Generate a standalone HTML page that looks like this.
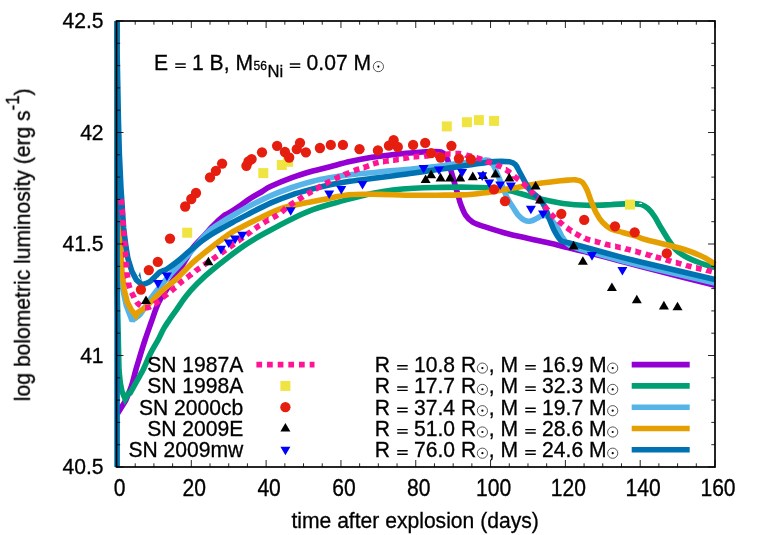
<!DOCTYPE html><html><head><meta charset="utf-8"><style>html,body{margin:0;padding:0;background:#fff}svg{display:block}text{font-family:"Liberation Sans",sans-serif;fill:#000;stroke:#000;stroke-width:0.3px}</style></head><body>
<svg width="764" height="535" viewBox="0 0 764 535">
<rect width="764" height="535" fill="#fff"/>
<defs><clipPath id="c"><rect x="113.5" y="21.0" width="604.5" height="446.0"/></clipPath><filter id="gs" x="0" y="0" width="764" height="535" filterUnits="userSpaceOnUse" color-interpolation-filters="sRGB"><feColorMatrix type="saturate" values="0"/></filter></defs>
<g clip-path="url(#c)" fill="none" stroke-width="5.6" stroke-linejoin="miter" stroke-miterlimit="10" stroke-linecap="butt">
<path d="M117.6 413.4L125.7 400.4C126.7 398.0 129.8 391.1 131.5 386.0C133.2 380.9 134.6 374.3 135.8 370.0C137.0 365.7 137.3 365.0 138.8 360.0C140.3 355.0 142.9 346.3 145.0 340.0C147.1 333.7 149.1 328.2 151.3 322.0C153.6 315.8 155.5 308.8 158.5 302.7C161.5 296.6 166.2 290.3 169.5 285.3C172.8 280.3 175.2 277.0 178.0 272.5C180.8 268.0 183.8 262.8 186.4 258.5C189.0 254.2 190.8 250.6 193.5 247.0C196.2 243.4 199.6 240.6 202.9 237.0C206.2 233.4 209.9 229.0 213.4 225.5C216.9 222.0 221.3 217.9 223.9 215.8C226.5 213.7 226.4 214.6 229.0 213.0C231.6 211.4 235.7 208.7 239.2 206.3C242.7 203.9 246.3 201.0 250.0 198.6C253.7 196.2 257.9 194.1 261.4 192.0C264.9 189.9 265.8 188.7 270.9 186.3C276.0 183.9 284.9 180.2 291.9 177.6C298.9 175.0 306.4 172.8 312.8 171.0C319.2 169.2 323.8 168.3 330.0 166.7C336.2 165.1 343.0 163.1 350.0 161.5C357.0 159.9 365.2 158.3 371.9 157.2C378.6 156.1 383.6 155.7 390.0 155.0C396.4 154.3 404.1 153.5 410.0 153.0C415.9 152.5 421.4 152.1 425.7 151.8C430.0 151.6 433.4 151.5 436.0 151.5C438.6 151.5 439.6 151.6 441.0 152.0C442.4 152.4 443.4 153.0 444.5 154.2C445.6 155.4 446.4 157.0 447.3 159.0C448.2 161.0 448.7 163.2 449.6 166.0C450.5 168.8 451.5 172.6 452.5 176.0C453.5 179.4 454.6 183.3 455.5 186.5C456.4 189.7 457.1 192.0 458.0 195.0C458.9 198.0 459.5 201.2 460.8 204.5C462.1 207.8 463.6 212.2 465.6 215.1C467.6 218.0 469.4 220.2 472.7 222.2C476.0 224.2 479.3 224.9 485.3 226.9C491.3 228.9 499.6 231.7 508.8 234.0C518.0 236.3 532.2 239.2 540.2 241.0C548.2 242.8 552.2 243.6 556.5 244.7C560.8 245.8 560.6 246.0 566.0 247.3C571.4 248.6 579.8 250.4 588.8 252.7C597.8 255.0 610.7 258.5 620.2 261.0C629.7 263.5 630.2 263.8 646.0 267.9C661.8 272.0 703.5 282.5 715.0 285.4" stroke="#9400d3"/>
<path d="M117.2 10.0L117.2 290.0L118.3 340.0L119.0 370.0L120.3 383.0L122.0 391.5L125.2 399.2L128.6 393.2L130.2 393.0C130.7 392.1 131.5 390.6 133.2 387.6C134.9 384.6 138.6 378.1 140.3 375.0C142.0 371.9 141.6 373.0 143.3 369.3C145.1 365.6 148.3 357.8 150.8 352.8C153.3 347.8 156.2 343.5 158.3 339.5C160.4 335.5 161.7 332.2 163.5 329.0C165.3 325.8 167.1 323.3 169.3 320.0C171.5 316.7 174.0 313.3 176.8 309.3C179.6 305.3 182.5 300.6 186.0 296.2C189.5 291.8 193.4 287.5 197.8 283.1C202.2 278.7 204.4 276.3 212.2 270.0C220.0 263.7 235.2 251.8 244.5 245.4C253.8 239.0 260.1 235.9 268.0 231.5C275.9 227.1 284.4 222.5 291.9 218.9C299.4 215.3 306.4 212.1 312.8 209.7C319.2 207.3 323.6 206.2 330.0 204.3C336.4 202.5 343.9 200.4 350.9 198.6C357.9 196.8 364.9 194.8 371.9 193.4C378.9 192.0 385.8 190.8 392.8 190.0C399.8 189.2 406.8 188.7 413.8 188.3C420.8 187.9 425.5 187.7 434.7 187.5C443.9 187.3 460.0 187.1 468.8 187.2C477.6 187.2 481.1 187.2 487.7 187.8C494.2 188.4 502.6 189.5 508.1 190.5C513.6 191.5 515.8 192.4 521.0 193.8C526.2 195.2 532.6 197.1 539.6 198.7C546.6 200.3 555.2 202.3 563.1 203.4C571.0 204.5 578.9 205.1 586.7 205.3C594.6 205.5 603.1 205.0 610.2 204.7C617.4 204.4 624.4 203.6 629.6 203.6C634.8 203.6 638.4 203.8 641.5 204.6C644.6 205.4 646.0 206.6 648.2 208.6C650.4 210.6 652.6 213.5 654.7 216.7C656.8 219.9 658.6 223.8 661.0 227.7C663.4 231.6 666.4 236.8 668.8 240.3C671.1 243.8 672.5 246.3 675.1 248.9C677.7 251.5 680.3 253.7 684.5 256.0C688.7 258.4 695.1 261.1 700.2 263.0C705.3 264.9 712.5 266.8 715.0 267.5" stroke="#009e73"/>
<path d="M117.0 10.0L117.2 150.0L119.3 240.0L121.5 280.0L123.0 290.0L124.2 296.0L126.3 305.4L129.8 314.8L131.6 319.3L133.4 319.5C134.4 318.5 137.7 317.2 140.3 314.1C142.9 311.0 146.3 304.8 149.0 301.0C151.7 297.2 153.1 295.2 156.2 291.3C159.3 287.4 163.7 282.1 167.4 277.8C171.1 273.5 175.2 269.2 178.6 265.5C182.0 261.8 185.4 258.1 187.6 255.6C189.8 253.1 189.1 253.9 192.0 250.5C194.9 247.1 201.8 238.6 205.0 235.0C208.2 231.4 208.7 231.1 211.4 229.0C214.1 226.9 217.5 224.7 221.0 222.5C224.5 220.3 227.0 218.8 232.4 215.7C237.8 212.6 246.9 207.4 253.3 204.1C259.7 200.8 264.5 198.4 270.9 195.6C277.3 192.8 284.9 189.9 291.9 187.5C298.9 185.1 306.4 182.8 312.8 181.2C319.2 179.6 323.8 178.8 330.0 177.7C336.2 176.6 343.0 175.6 350.0 174.8C357.0 174.0 365.2 173.4 371.9 172.7C378.6 172.0 383.6 171.4 390.0 170.8C396.4 170.2 403.2 169.9 410.0 169.3C416.8 168.7 423.9 167.9 430.9 167.1C437.9 166.3 444.9 165.2 451.9 164.3C458.9 163.4 467.4 162.4 472.8 161.7C478.2 161.0 481.0 160.2 484.0 160.2C487.0 160.1 488.8 159.6 490.8 161.4C492.8 163.2 494.3 167.1 496.0 170.8C497.7 174.5 499.4 179.0 501.2 183.4C503.0 187.8 505.1 193.6 507.0 197.5C508.9 201.4 510.9 204.1 512.8 207.0C514.7 209.9 516.2 212.9 518.2 215.1C520.2 217.3 522.4 219.3 524.5 220.3C526.6 221.3 528.7 221.4 530.8 221.1C532.9 220.8 535.0 219.3 537.1 218.3C539.2 217.3 541.3 215.2 543.4 215.1C545.5 215.0 547.2 216.0 549.5 218.0C551.8 220.0 554.9 223.9 557.0 227.0C559.1 230.1 560.3 233.8 562.0 236.5C563.7 239.2 565.2 241.6 567.0 243.3C568.8 245.1 569.4 245.6 573.0 247.0C576.6 248.4 580.9 249.4 588.8 251.6C596.7 253.8 610.7 257.8 620.2 260.3C629.7 262.8 630.2 262.9 646.0 266.7C661.8 270.5 703.5 280.3 715.0 283.0" stroke="#56b4e9"/>
<path d="M117.0 10.0L117.2 150.0L119.5 215.0L121.8 270.0L124.2 290.0L127.4 302.4L131.4 310.0L136.0 315.8L138.0 312.4C138.9 311.8 141.5 310.4 143.5 308.8C145.5 307.2 146.7 306.0 150.0 302.8C153.3 299.6 158.7 293.8 163.1 289.9C167.5 286.0 172.5 282.5 176.2 279.2C179.9 275.9 181.8 273.4 185.3 270.0C188.8 266.6 190.2 264.4 197.4 258.5C204.7 252.6 221.2 239.7 228.8 234.4C236.4 229.1 237.5 229.4 242.8 226.6C248.1 223.8 254.1 220.8 260.5 217.8C266.9 214.8 274.4 210.9 281.4 208.5C288.4 206.1 295.4 205.0 302.4 203.5C309.4 202.0 315.6 201.1 323.3 199.6C331.0 198.1 339.3 195.6 348.8 194.7C358.3 193.8 370.7 194.3 380.2 194.4C389.7 194.5 396.5 195.1 406.0 195.2C415.5 195.3 428.4 195.2 437.4 195.2C446.4 195.1 454.1 195.1 460.0 194.9C465.9 194.8 469.0 194.6 472.8 194.3C476.6 194.0 479.5 193.6 483.0 193.1C486.5 192.6 488.5 192.3 493.8 191.4C499.1 190.5 507.7 188.9 514.7 187.7C521.7 186.5 528.7 185.1 535.7 184.0C542.7 182.9 551.2 182.0 556.6 181.3C562.0 180.7 564.8 180.3 568.0 180.1C571.2 179.9 573.4 179.6 575.7 179.9C578.0 180.2 580.2 180.4 582.0 182.0C583.8 183.6 585.1 186.0 586.7 189.3C588.3 192.6 589.8 197.9 591.4 201.8C593.0 205.7 594.3 209.4 596.1 212.8C597.9 216.2 600.0 219.6 602.4 222.2C604.8 224.8 606.8 226.8 610.2 228.5C613.6 230.2 618.5 231.2 622.8 232.5C627.1 233.8 632.2 235.0 636.0 236.2C639.8 237.4 639.8 238.0 645.3 239.5C650.8 241.0 662.3 243.6 668.8 245.3C675.3 247.0 679.3 247.8 684.5 249.5C689.7 251.2 696.3 253.8 700.2 255.5C704.1 257.2 705.6 258.2 708.1 259.7C710.6 261.1 713.9 263.4 715.0 264.2" stroke="#e69f00"/>
<path d="M117.1 470.0L117.1 10.0L116.9 41.0L118.4 120.0L119.4 155.0L121.0 189.0L123.6 228.0L126.0 247.0L128.0 258.9L131.9 271.4L136.4 279.9L142.0 284.7C142.8 284.5 144.9 284.0 146.5 283.3C148.1 282.6 149.8 281.6 151.4 280.3C153.0 279.1 154.6 277.1 156.0 275.8C157.4 274.5 158.3 273.2 159.6 272.3C160.8 271.4 162.2 271.2 163.5 270.6C164.8 270.0 164.9 270.5 167.4 268.8C169.9 267.1 175.2 263.2 178.6 260.5C182.0 257.8 184.5 255.2 187.6 252.6C190.7 249.9 195.2 246.4 197.4 244.6C199.6 242.8 198.6 243.5 200.9 241.8C203.2 240.1 206.2 237.5 211.4 234.3C216.7 231.1 226.0 226.0 232.4 222.5C238.8 219.0 243.6 216.6 250.0 213.3C256.4 210.0 263.9 206.0 270.9 202.9C277.9 199.8 284.9 197.1 291.9 194.8C298.9 192.5 306.4 190.6 312.8 188.9C319.2 187.2 323.8 186.1 330.0 184.8C336.2 183.5 343.0 182.4 350.0 181.3C357.0 180.2 365.2 179.3 371.9 178.5C378.6 177.7 383.6 177.0 390.0 176.2C396.4 175.4 403.2 174.6 410.0 173.6C416.8 172.6 423.9 171.4 430.9 170.4C437.9 169.4 444.9 168.6 451.9 167.6C458.9 166.6 465.8 165.5 472.8 164.5C479.8 163.5 487.9 162.0 494.0 161.6C500.1 161.2 505.9 161.3 509.5 161.8C513.0 162.3 513.6 162.9 515.3 164.6C517.0 166.3 518.0 169.1 519.6 172.0C521.2 174.9 523.1 178.7 524.9 181.8C526.7 184.9 528.0 187.9 530.6 190.8C533.2 193.7 537.8 196.7 540.2 199.4C542.6 202.2 543.4 203.9 545.0 207.3C546.6 210.7 548.1 215.9 549.7 219.8C551.3 223.7 552.6 227.4 554.4 230.8C556.2 234.2 558.4 238.3 560.7 240.3C563.0 242.3 563.7 241.5 568.4 242.8C573.1 244.1 580.2 246.0 588.8 248.3C597.4 250.7 610.7 254.4 620.2 256.9C629.7 259.4 630.2 259.4 646.0 263.2C661.8 266.9 703.5 276.7 715.0 279.4" stroke="#0072b2"/>
<path d="M138.6 275.3L140 271.7L141.9 281.8z" fill="#0072b2" stroke="none"/>
<path d="M121.1 199.2L121.1 199.6L121.2 200.0L121.2 200.4L121.3 200.9L121.3 201.4L121.4 202.0L121.4 202.6L121.5 203.3L121.5 203.9L121.6 204.6L121.6 204.9M122.0 209.6L122.1 209.8L122.1 210.6L122.2 211.4L122.3 212.1L122.3 212.9L122.4 213.6L122.4 214.3L122.5 215.0L122.5 215.3M122.9 220.1L122.9 220.4L123.0 221.0L123.0 221.7L123.1 222.4L123.1 223.1L123.2 223.8L123.2 224.4L123.3 225.1L123.3 225.7M123.7 230.5L123.7 231.2L123.8 232.0L123.9 232.8L123.9 233.7L124.0 234.7L124.1 235.6L124.1 236.2M124.5 240.9L124.6 241.7L124.7 242.8L124.8 243.8L124.9 244.9L125.0 245.9L125.0 246.6M125.4 251.4L125.5 251.7L125.5 252.5L125.6 253.3L125.6 254.1L125.7 254.8L125.7 255.5L125.8 256.1L125.8 256.7L125.9 257.1M126.1 261.8L126.1 262.1L126.1 262.4L126.2 262.8L126.2 263.1L126.2 263.5L126.2 263.8L126.2 264.2L126.3 264.6L126.3 265.0L126.3 265.4L126.4 265.8L126.4 266.3L126.4 266.7L126.5 267.1L126.5 267.5M127.0 272.3L127.0 272.5L127.0 272.9L127.1 273.3L127.1 273.7L127.2 274.2L127.2 274.6L127.3 275.0L127.4 275.4L127.4 275.8L127.5 276.3L127.5 276.7L127.6 277.1L127.6 277.6L127.7 277.9M128.4 282.6L128.4 282.7L128.5 283.2L128.6 283.6L128.7 284.0L128.8 284.5L128.9 284.9L129.0 285.3L129.1 285.7L129.2 286.1L129.4 286.6L129.5 287.0L129.6 287.4L129.8 287.8L129.9 288.1M131.6 292.6L131.7 292.8L131.9 293.2L132.1 293.6L132.3 294.0L132.5 294.4L132.7 294.8L132.9 295.2L133.1 295.6L133.3 296.0L133.5 296.4L133.7 296.8L134.0 297.2L134.2 297.7M136.6 301.8L136.8 302.1L137.1 302.5L137.4 302.8L137.6 303.1L137.9 303.4L138.2 303.7L138.5 304.0L138.8 304.3L139.1 304.6L139.4 304.8L139.7 305.0L140.1 305.3L140.4 305.5L140.7 305.7M145.1 307.5L145.1 307.5L145.4 307.5L145.8 307.6L146.2 307.6L146.6 307.6L146.9 307.6L147.3 307.6L147.7 307.6L148.0 307.5L148.4 307.4L148.8 307.3L149.2 307.1L149.6 307.0L150.0 306.8L150.4 306.6L150.6 306.5M154.6 304.0L154.7 304.0L155.0 303.7L155.4 303.4L155.8 303.2L156.1 302.9L156.5 302.7L156.9 302.5L157.2 302.2L157.5 302.0L157.9 301.7L158.2 301.5L158.6 301.2L158.9 300.9L159.2 300.7M162.8 297.5L163.1 297.3L163.4 297.0L163.7 296.8L164.1 296.5L164.4 296.2L164.7 295.9L165.1 295.7L165.4 295.4L165.8 295.1L166.1 294.8L166.5 294.6L166.9 294.3L167.2 294.0L167.3 294.0M171.1 291.1L171.2 291.0L171.5 290.7L171.9 290.5L172.2 290.2L172.6 289.9L172.9 289.6L173.2 289.3L173.6 289.0L173.9 288.7L174.2 288.4L174.6 288.1L174.9 287.8L175.2 287.5L175.4 287.4M178.9 284.1L179.1 283.9L179.5 283.6L179.8 283.3L180.1 283.0L180.5 282.7L180.8 282.4L181.1 282.1L181.5 281.8L181.8 281.6L182.2 281.3L182.5 281.0L182.9 280.7L183.2 280.5M187.0 277.6L187.2 277.5L187.5 277.2L187.9 277.0L188.2 276.7L188.6 276.4L188.9 276.2L189.3 275.9L189.6 275.6L189.9 275.4L190.2 275.2L190.4 275.0L190.6 274.8L190.9 274.7L191.0 274.5L191.2 274.3L191.4 274.2L191.5 274.1M195.3 271.2L195.5 271.0L196.1 270.6L196.8 270.1L197.6 269.5L198.5 268.9L199.4 268.2L199.9 267.9M203.9 265.1L205.0 264.3L206.3 263.4L207.6 262.5L208.5 261.9M212.5 259.2L213.2 258.7L214.6 257.7L216.1 256.7L217.2 255.9M221.1 253.2L221.9 252.7L223.3 251.7L224.7 250.7L225.7 250.0M229.6 247.2L230.1 246.9L231.4 245.9L232.8 244.9L234.2 243.9L234.3 243.9M238.1 241.0L238.3 240.9L239.7 239.8L241.1 238.8L242.5 237.8L242.7 237.6M246.5 234.8L246.6 234.7L248.0 233.7L249.3 232.7L250.7 231.8L251.1 231.4M255.0 228.6L255.7 228.1L256.9 227.3L258.0 226.5L259.1 225.7L259.7 225.4M263.6 222.8L264.1 222.5L265.1 221.9L266.0 221.4L266.8 220.9L267.7 220.4L268.5 219.9L268.6 219.9M272.8 217.6L273.0 217.5L273.7 217.1L274.4 216.7L275.1 216.4L275.8 216.0L276.4 215.6L277.1 215.2L277.7 214.8L277.7 214.8M281.6 212.1L281.6 212.1L282.1 211.7L282.5 211.4L282.9 211.0L283.2 210.7L283.6 210.3L284.0 210.0L284.4 209.6L284.7 209.3L285.1 208.9L285.5 208.6L285.9 208.3M289.6 205.3L289.9 205.1L290.7 204.6L291.5 204.0L292.4 203.5L293.4 202.8L294.4 202.2L294.4 202.2M298.4 199.6L298.7 199.4L299.9 198.7L301.1 197.9L302.3 197.2L303.2 196.6M307.3 194.1L308.4 193.4L309.7 192.7L310.9 192.0L312.0 191.3L312.2 191.2M316.3 188.7L316.4 188.7L317.4 188.1L318.4 187.5L319.3 187.0L320.3 186.5L321.2 185.9L321.2 185.9M325.4 183.7L325.8 183.5L326.7 183.0L327.5 182.6L328.4 182.1L329.2 181.7L330.1 181.3L330.5 181.1M334.8 178.9L335.3 178.7L336.0 178.3L336.7 178.0L337.3 177.7L337.9 177.4L338.5 177.1L339.0 176.9L339.5 176.6L339.9 176.5M344.3 174.7L344.4 174.6L344.7 174.5L345.1 174.4L345.4 174.2L345.8 174.1L346.2 174.0L346.5 173.8L346.9 173.7L347.3 173.5L347.7 173.3L348.1 173.2L348.5 173.0L348.9 172.8L349.3 172.7L349.6 172.5M353.9 170.8L354.2 170.7L354.6 170.5L355.0 170.4L355.3 170.2L355.7 170.1L356.1 169.9L356.5 169.8L356.9 169.7L357.3 169.5L357.7 169.4L358.1 169.3L358.5 169.1L358.9 169.0L359.3 168.9L359.3 168.9M363.6 167.6L363.7 167.6L364.1 167.4L364.5 167.3L364.9 167.2L365.3 167.1L365.7 166.9L366.1 166.8L366.5 166.7L366.9 166.5L367.2 166.4L367.6 166.2L368.0 166.1L368.3 165.9L368.7 165.8L369.0 165.7M373.1 163.9L373.5 163.8L373.8 163.7L374.2 163.5L374.6 163.4L375.0 163.3L375.4 163.2L375.8 163.1L376.2 163.0L376.6 162.9L377.0 162.8L377.4 162.7L377.8 162.6L378.2 162.5L378.6 162.4M383.0 161.6L383.3 161.6L383.7 161.5L384.1 161.4L384.6 161.4L385.0 161.3L385.4 161.2L385.9 161.2L386.3 161.1L386.8 161.0L387.2 161.0L387.7 160.9L388.2 160.9L388.6 160.8L388.7 160.8M393.1 160.3L393.3 160.3L393.8 160.2L394.2 160.2L394.7 160.1L395.1 160.0L395.6 160.0L396.0 159.9L396.4 159.8L396.9 159.8L397.3 159.7L397.7 159.6L398.1 159.5L398.5 159.4L398.8 159.4M403.3 158.5L403.4 158.5L403.8 158.4L404.2 158.3L404.6 158.2L405.1 158.1L405.5 158.1L405.9 158.0L406.3 157.9L406.8 157.9L407.2 157.8L407.6 157.7L408.0 157.7L408.5 157.6L408.9 157.5M413.6 156.9L413.7 156.9L414.2 156.8L414.6 156.8L415.0 156.7L415.4 156.7L415.9 156.6L416.3 156.6L416.7 156.6L417.1 156.5L417.5 156.5L417.8 156.5L418.2 156.4L418.5 156.4L418.9 156.4L419.2 156.4L419.3 156.4M424.0 156.2L424.4 156.1L425.0 156.1L425.6 156.0L426.2 156.0L426.9 155.9L427.6 155.9L428.4 155.8L429.2 155.7L429.7 155.7M434.5 155.3L434.9 155.2L435.9 155.1L436.9 155.0L437.9 155.0L438.9 154.9L439.9 154.8L440.2 154.7M444.9 154.3L445.4 154.3L446.2 154.2L447.0 154.2L447.7 154.1L448.4 154.1L449.0 154.0L449.6 154.0L450.2 153.9L450.6 153.9M455.4 153.5L455.5 153.5L455.9 153.5L456.3 153.5L456.7 153.5L457.1 153.5L457.4 153.5L457.9 153.5L458.3 153.6L458.7 153.6L459.1 153.6L459.6 153.7L460.0 153.7L460.4 153.8L460.8 153.9L461.1 153.9M466.0 155.0L466.1 155.1L466.5 155.2L466.9 155.3L467.3 155.4L467.8 155.5L468.2 155.6L468.6 155.7L469.0 155.8L469.5 155.9L469.9 156.0L470.3 156.1L470.8 156.2L471.2 156.4L471.5 156.4M476.3 157.7L476.5 157.8L477.0 157.9L477.4 158.1L477.8 158.2L478.3 158.3L478.7 158.5L479.1 158.6L479.5 158.7L479.9 158.9L480.3 159.0L480.7 159.1L481.1 159.3L481.5 159.4L481.7 159.5M486.4 161.2L486.5 161.3L486.9 161.4L487.3 161.6L487.7 161.7L488.1 161.9L488.5 162.0L488.9 162.1L489.3 162.3L489.7 162.4L490.2 162.6L490.6 162.7L491.0 162.9L491.4 163.0L491.7 163.1M496.4 164.8L496.6 164.9L497.0 165.1L497.5 165.2L497.9 165.4L498.3 165.6L498.7 165.8L499.1 166.0L499.5 166.2L499.9 166.4L500.3 166.6L500.7 166.8L501.1 167.0L501.5 167.2M505.8 169.7L505.9 169.7L506.3 170.0L506.6 170.2L507.0 170.5L507.4 170.7L507.7 171.0L508.1 171.2L508.5 171.4L508.8 171.7L509.1 172.0L509.5 172.2L509.8 172.5L510.1 172.7L510.5 173.0L510.5 173.0M514.3 176.2L514.3 176.3L514.6 176.5L515.0 176.8L515.3 177.1L515.6 177.4L516.0 177.7L516.4 178.0L516.7 178.3L517.1 178.6L517.5 178.9L517.9 179.2L518.3 179.5L518.7 179.8M522.5 182.9L522.8 183.1L523.2 183.4L523.6 183.7L523.9 184.0L524.3 184.4L524.7 184.7L525.1 185.0L525.4 185.3L525.7 185.6L526.1 185.9L526.4 186.2L526.7 186.6L526.8 186.6M530.2 190.2L530.3 190.3L530.6 190.6L530.8 190.9L531.1 191.2L531.4 191.5L531.7 191.8L531.9 192.1L532.2 192.4L532.5 192.7L532.8 193.0L533.0 193.3L533.3 193.6L533.6 193.8L533.8 194.1L534.0 194.3M537.3 197.9L537.4 197.9L537.6 198.2L537.9 198.5L538.2 198.8L538.4 199.1L538.7 199.4L539.0 199.7L539.3 200.0L539.5 200.4L539.8 200.7L540.1 201.0L540.4 201.4L540.7 201.7L541.0 202.1L541.1 202.2M544.2 205.9L544.3 206.0L544.6 206.4L544.9 206.7L545.2 207.1L545.5 207.5L545.8 207.8L546.1 208.1L546.4 208.5L546.7 208.8L547.0 209.2L547.3 209.5L547.6 209.9L547.8 210.2L547.9 210.2M551.0 213.9L551.1 214.0L551.4 214.4L551.7 214.7L552.0 215.0L552.3 215.4L552.6 215.7L552.9 216.0L553.2 216.3L553.5 216.6L553.8 216.9L554.2 217.2L554.5 217.5L554.8 217.8L555.0 218.0M558.6 221.1L558.8 221.3L559.1 221.6L559.4 221.9L559.8 222.2L560.1 222.4L560.5 222.7L560.8 223.0L561.1 223.3L561.5 223.6L561.8 223.8L562.2 224.1L562.5 224.4L562.9 224.7L563.0 224.8M566.8 227.7L567.1 227.9L567.4 228.1L567.8 228.4L568.1 228.6L568.5 228.9L568.8 229.2L569.2 229.4L569.6 229.6L569.9 229.9L570.3 230.1L570.6 230.4L571.0 230.6L571.3 230.9L571.4 230.9M575.4 233.5L575.6 233.6L575.9 233.8L576.3 234.1L576.7 234.3L577.1 234.5L577.4 234.7L577.8 234.9L578.2 235.1L578.6 235.3L578.9 235.5L579.3 235.7L579.7 235.9L580.1 236.1L580.4 236.3M584.8 238.2L584.9 238.3L585.3 238.4L585.7 238.6L586.1 238.7L586.5 238.9L586.9 239.1L587.3 239.2L587.7 239.3L588.1 239.5L588.5 239.6L589.0 239.8L589.4 239.9L589.8 240.0L590.2 240.1M594.8 241.3L594.9 241.3L595.4 241.4L595.8 241.6L596.2 241.7L596.6 241.8L597.1 241.9L597.5 242.0L597.9 242.1L598.3 242.2L598.8 242.3L599.2 242.5L599.6 242.6L600.0 242.7L600.3 242.8M604.9 244.0L605.2 244.1L605.6 244.2L606.0 244.3L606.4 244.4L606.9 244.5L607.3 244.6L607.7 244.7L608.1 244.8L608.5 244.9L609.0 245.0L609.4 245.1L609.8 245.2L610.3 245.3L610.5 245.3M615.1 246.4L615.3 246.4L615.8 246.5L616.2 246.6L616.6 246.7L617.0 246.8L617.5 246.9L617.9 247.0L618.3 247.1L618.7 247.2L619.2 247.3L619.6 247.4L620.0 247.5L620.4 247.6L620.7 247.6M625.3 248.7L625.5 248.8L626.0 248.9L626.4 249.0L626.8 249.1L627.2 249.2L627.7 249.3L628.1 249.4L628.5 249.5L628.9 249.6L629.3 249.7L629.7 249.8L630.1 249.9L630.4 250.0L630.8 250.1L630.8 250.1M635.4 251.4L635.6 251.4L636.1 251.6L636.6 251.7L637.1 251.9L637.7 252.0L638.3 252.2L638.9 252.4L639.6 252.5L640.2 252.7L640.9 252.9L640.9 252.9M645.6 254.2L645.9 254.3L646.7 254.5L647.5 254.7L648.4 254.9L649.2 255.2L650.1 255.4L651.0 255.6L651.1 255.7M655.7 256.9L655.7 256.9L656.8 257.2L657.8 257.5L658.9 257.8L660.0 258.1L661.2 258.4M665.8 259.7L666.3 259.9L667.7 260.3L669.0 260.7L670.4 261.0L671.2 261.3M675.8 262.6L676.1 262.6L677.5 263.0L678.9 263.4L680.3 263.8L681.3 264.1M685.9 265.3L686.8 265.6L688.0 265.9L689.2 266.2L690.4 266.5L691.5 266.8M696.1 267.9L696.2 267.9L697.3 268.2L698.4 268.5L699.6 268.7L700.7 269.0L701.6 269.2M706.3 270.2L706.8 270.4L707.7 270.6L708.6 270.8L709.4 270.9L710.2 271.1L710.9 271.3L711.6 271.4L711.9 271.5" stroke="#ff1493"/>
</g>
<ellipse cx="640.7" cy="203.4" rx="1.5" ry="0.7" fill="#fff"/>
<rect x="182.2" y="227.7" width="10" height="10" fill="#f0e442"/>
<rect x="258.3" y="168.1" width="10" height="10" fill="#f0e442"/>
<rect x="283.1" y="156.8" width="10" height="10" fill="#f0e442"/>
<rect x="276.8" y="160.0" width="10" height="10" fill="#f0e442"/>
<rect x="441.8" y="121.4" width="10" height="10" fill="#f0e442"/>
<rect x="461.9" y="117.2" width="10" height="10" fill="#f0e442"/>
<rect x="473.9" y="115.1" width="10" height="10" fill="#f0e442"/>
<rect x="489.1" y="115.9" width="10" height="10" fill="#f0e442"/>
<rect x="625.0" y="199.6" width="10" height="10" fill="#f0e442"/>
<circle cx="140.9" cy="289.6" r="5.15" fill="#e51e10"/>
<circle cx="148.8" cy="270.1" r="5.15" fill="#e51e10"/>
<circle cx="157.8" cy="261.9" r="5.15" fill="#e51e10"/>
<circle cx="170.0" cy="238.6" r="5.15" fill="#e51e10"/>
<circle cx="185.2" cy="206.5" r="5.15" fill="#e51e10"/>
<circle cx="191.3" cy="199.0" r="5.15" fill="#e51e10"/>
<circle cx="196.0" cy="193.0" r="5.15" fill="#e51e10"/>
<circle cx="210.0" cy="177.4" r="5.15" fill="#e51e10"/>
<circle cx="215.9" cy="170.8" r="5.15" fill="#e51e10"/>
<circle cx="222.1" cy="163.6" r="5.15" fill="#e51e10"/>
<circle cx="246.4" cy="165.8" r="5.15" fill="#e51e10"/>
<circle cx="248.5" cy="161.4" r="5.15" fill="#e51e10"/>
<circle cx="251.6" cy="159.1" r="5.15" fill="#e51e10"/>
<circle cx="262.0" cy="152.3" r="5.15" fill="#e51e10"/>
<circle cx="277.1" cy="145.8" r="5.15" fill="#e51e10"/>
<circle cx="284.9" cy="152.0" r="5.15" fill="#e51e10"/>
<circle cx="289.2" cy="157.5" r="5.15" fill="#e51e10"/>
<circle cx="296.8" cy="149.2" r="5.15" fill="#e51e10"/>
<circle cx="300.0" cy="142.8" r="5.15" fill="#e51e10"/>
<circle cx="305.9" cy="152.3" r="5.15" fill="#e51e10"/>
<circle cx="319.9" cy="148.0" r="5.15" fill="#e51e10"/>
<circle cx="330.8" cy="144.9" r="5.15" fill="#e51e10"/>
<circle cx="342.9" cy="144.9" r="5.15" fill="#e51e10"/>
<circle cx="359.5" cy="149.2" r="5.15" fill="#e51e10"/>
<circle cx="377.9" cy="150.4" r="5.15" fill="#e51e10"/>
<circle cx="388.9" cy="145.7" r="5.15" fill="#e51e10"/>
<circle cx="393.6" cy="140.2" r="5.15" fill="#e51e10"/>
<circle cx="397.8" cy="147.0" r="5.15" fill="#e51e10"/>
<circle cx="413.1" cy="144.9" r="5.15" fill="#e51e10"/>
<circle cx="425.2" cy="142.9" r="5.15" fill="#e51e10"/>
<circle cx="431.1" cy="153.2" r="5.15" fill="#e51e10"/>
<circle cx="440.6" cy="157.5" r="5.15" fill="#e51e10"/>
<circle cx="451.4" cy="145.8" r="5.15" fill="#e51e10"/>
<circle cx="458.9" cy="158.6" r="5.15" fill="#e51e10"/>
<circle cx="470.9" cy="159.5" r="5.15" fill="#e51e10"/>
<circle cx="494.0" cy="189.4" r="5.15" fill="#e51e10"/>
<circle cx="505.0" cy="201.2" r="5.15" fill="#e51e10"/>
<circle cx="561.3" cy="213.8" r="5.15" fill="#e51e10"/>
<circle cx="584.2" cy="219.9" r="5.15" fill="#e51e10"/>
<circle cx="615.0" cy="226.3" r="5.15" fill="#e51e10"/>
<circle cx="634.7" cy="232.3" r="5.15" fill="#e51e10"/>
<circle cx="666.8" cy="253.4" r="5.15" fill="#e51e10"/>
<path d="M146.0 295.5l5 8.6h-10z" fill="#000"/>
<path d="M208.4 256.7l5 8.6h-10z" fill="#000"/>
<path d="M425.6 174.4l5 8.6h-10z" fill="#000"/>
<path d="M431.1 169.7l5 8.6h-10z" fill="#000"/>
<path d="M440.6 172.8l5 8.6h-10z" fill="#000"/>
<path d="M450.0 172.8l5 8.6h-10z" fill="#000"/>
<path d="M460.2 172.8l5 8.6h-10z" fill="#000"/>
<path d="M472.8 171.6l5 8.6h-10z" fill="#000"/>
<path d="M483.0 170.5l5 8.6h-10z" fill="#000"/>
<path d="M495.5 168.9l5 8.6h-10z" fill="#000"/>
<path d="M509.3 172.8l5 8.6h-10z" fill="#000"/>
<path d="M535.6 181.0l5 8.6h-10z" fill="#000"/>
<path d="M540.0 194.9l5 8.6h-10z" fill="#000"/>
<path d="M573.6 240.8l5 8.6h-10z" fill="#000"/>
<path d="M582.9 256.2l5 8.6h-10z" fill="#000"/>
<path d="M611.9 282.4l5 8.6h-10z" fill="#000"/>
<path d="M636.8 294.7l5 8.6h-10z" fill="#000"/>
<path d="M663.9 300.8l5 8.6h-10z" fill="#000"/>
<path d="M677.5 301.7l5 8.6h-10z" fill="#000"/>
<path d="M158.0 288.6l5 -8.6h-10z" fill="#0000ff"/>
<path d="M166.9 281.1l5 -8.6h-10z" fill="#0000ff"/>
<path d="M221.0 254.4l5 -8.6h-10z" fill="#0000ff"/>
<path d="M228.8 248.1l5 -8.6h-10z" fill="#0000ff"/>
<path d="M235.1 244.2l5 -8.6h-10z" fill="#0000ff"/>
<path d="M242.2 240.3l5 -8.6h-10z" fill="#0000ff"/>
<path d="M290.7 215.8l5 -8.6h-10z" fill="#0000ff"/>
<path d="M329.2 199.0l5 -8.6h-10z" fill="#0000ff"/>
<path d="M341.3 194.5l5 -8.6h-10z" fill="#0000ff"/>
<path d="M362.5 189.5l5 -8.6h-10z" fill="#0000ff"/>
<path d="M423.6 173.6l5 -8.6h-10z" fill="#0000ff"/>
<path d="M439.0 175.1l5 -8.6h-10z" fill="#0000ff"/>
<path d="M462.1 177.5l5 -8.6h-10z" fill="#0000ff"/>
<path d="M482.2 180.9l5 -8.6h-10z" fill="#0000ff"/>
<path d="M489.2 188.0l5 -8.6h-10z" fill="#0000ff"/>
<path d="M500.2 190.1l5 -8.6h-10z" fill="#0000ff"/>
<path d="M510.9 191.2l5 -8.6h-10z" fill="#0000ff"/>
<path d="M530.9 214.3l5 -8.6h-10z" fill="#0000ff"/>
<path d="M543.0 219.0l5 -8.6h-10z" fill="#0000ff"/>
<path d="M592.0 260.7l5 -8.6h-10z" fill="#0000ff"/>
<path d="M622.4 275.5l5 -8.6h-10z" fill="#0000ff"/>
<path d="M116.50 467.0v-7M116.50 21.0v7M135.20 467.0v-3.7M135.20 21.0v3.7M153.91 467.0v-3.7M153.91 21.0v3.7M172.61 467.0v-3.7M172.61 21.0v3.7M191.31 467.0v-7M191.31 21.0v7M210.02 467.0v-3.7M210.02 21.0v3.7M228.72 467.0v-3.7M228.72 21.0v3.7M247.42 467.0v-3.7M247.42 21.0v3.7M266.12 467.0v-7M266.12 21.0v7M284.83 467.0v-3.7M284.83 21.0v3.7M303.53 467.0v-3.7M303.53 21.0v3.7M322.23 467.0v-3.7M322.23 21.0v3.7M340.94 467.0v-7M340.94 21.0v7M359.64 467.0v-3.7M359.64 21.0v3.7M378.34 467.0v-3.7M378.34 21.0v3.7M397.05 467.0v-3.7M397.05 21.0v3.7M415.75 467.0v-7M415.75 21.0v7M434.45 467.0v-3.7M434.45 21.0v3.7M453.16 467.0v-3.7M453.16 21.0v3.7M471.86 467.0v-3.7M471.86 21.0v3.7M490.56 467.0v-7M490.56 21.0v7M509.27 467.0v-3.7M509.27 21.0v3.7M527.97 467.0v-3.7M527.97 21.0v3.7M546.67 467.0v-3.7M546.67 21.0v3.7M565.38 467.0v-7M565.38 21.0v7M584.08 467.0v-3.7M584.08 21.0v3.7M602.78 467.0v-3.7M602.78 21.0v3.7M621.48 467.0v-3.7M621.48 21.0v3.7M640.19 467.0v-7M640.19 21.0v7M658.89 467.0v-3.7M658.89 21.0v3.7M677.59 467.0v-3.7M677.59 21.0v3.7M696.30 467.0v-3.7M696.30 21.0v3.7M715.00 467.0v-7M715.00 21.0v7M116.5 467.00h7M715.0 467.00h-7M116.5 444.70h3.7M715.0 444.70h-3.7M116.5 422.40h3.7M715.0 422.40h-3.7M116.5 400.10h3.7M715.0 400.10h-3.7M116.5 377.80h3.7M715.0 377.80h-3.7M116.5 355.50h7M715.0 355.50h-7M116.5 333.20h3.7M715.0 333.20h-3.7M116.5 310.90h3.7M715.0 310.90h-3.7M116.5 288.60h3.7M715.0 288.60h-3.7M116.5 266.30h3.7M715.0 266.30h-3.7M116.5 244.00h7M715.0 244.00h-7M116.5 221.70h3.7M715.0 221.70h-3.7M116.5 199.40h3.7M715.0 199.40h-3.7M116.5 177.10h3.7M715.0 177.10h-3.7M116.5 154.80h3.7M715.0 154.80h-3.7M116.5 132.50h7M715.0 132.50h-7M116.5 110.20h3.7M715.0 110.20h-3.7M116.5 87.90h3.7M715.0 87.90h-3.7M116.5 65.60h3.7M715.0 65.60h-3.7M116.5 43.30h3.7M715.0 43.30h-3.7M116.5 21.00h7M715.0 21.00h-7" stroke="#000" stroke-width="0.85" fill="none"/>
<rect x="116.5" y="21.0" width="598.5" height="446.0" fill="none" stroke="#000" stroke-width="1.7"/>
<path d="M256.4 364.6H314.5" stroke="#ff1493" stroke-width="5.6" stroke-dasharray="5.7 4.95" fill="none"/>
<rect x="280.4" y="380.9" width="10" height="10" fill="#f0e442"/>
<circle cx="285.4" cy="407.2" r="5.15" fill="#e51e10"/>
<path d="M285.4 422.9l5 8.6h-10z" fill="#000"/>
<path d="M285.4 455.3l5 -8.6h-10z" fill="#0000ff"/>
<path d="M631.7 364.6H689.7" stroke="#9400d3" stroke-width="5.6" fill="none"/>
<path d="M631.7 385.9H689.7" stroke="#009e73" stroke-width="5.6" fill="none"/>
<path d="M631.7 407.2H689.7" stroke="#56b4e9" stroke-width="5.6" fill="none"/>
<path d="M631.7 428.5H689.7" stroke="#e69f00" stroke-width="5.6" fill="none"/>
<path d="M631.7 449.7H689.7" stroke="#0072b2" stroke-width="5.6" fill="none"/>
<g filter="url(#gs)">
<text transform="translate(119.5 495.7) scale(1 1.1)" font-size="21.1" text-anchor="middle">0</text>
<text transform="translate(194.31 495.7) scale(1 1.1)" font-size="21.1" text-anchor="middle">20</text>
<text transform="translate(269.12 495.7) scale(1 1.1)" font-size="21.1" text-anchor="middle">40</text>
<text transform="translate(343.94 495.7) scale(1 1.1)" font-size="21.1" text-anchor="middle">60</text>
<text transform="translate(418.75 495.7) scale(1 1.1)" font-size="21.1" text-anchor="middle">80</text>
<text transform="translate(493.56 495.7) scale(1 1.1)" font-size="21.1" text-anchor="middle">100</text>
<text transform="translate(568.38 495.7) scale(1 1.1)" font-size="21.1" text-anchor="middle">120</text>
<text transform="translate(643.19 495.7) scale(1 1.1)" font-size="21.1" text-anchor="middle">140</text>
<text transform="translate(718.0 495.7) scale(1 1.1)" font-size="21.1" text-anchor="middle">160</text>
<text transform="translate(103.6 474.3) scale(1 1.06)" font-size="21.1" text-anchor="end">40.5</text>
<text transform="translate(103.6 362.8) scale(1 1.06)" font-size="21.1" text-anchor="end">41</text>
<text transform="translate(103.6 251.3) scale(1 1.06)" font-size="21.1" text-anchor="end">41.5</text>
<text transform="translate(103.6 139.8) scale(1 1.06)" font-size="21.1" text-anchor="end">42</text>
<text transform="translate(103.6 28.3) scale(1 1.06)" font-size="21.1" text-anchor="end">42.5</text>
<text transform="translate(415.1 527.6) scale(1 1.06)" font-size="21.1" text-anchor="middle">time after explosion (days)</text>
<text transform="translate(29.5 244.7) rotate(-90) scale(1 1.06)" font-size="21.1" text-anchor="middle">log bolometric luminosity (erg s<tspan dy="-10.2" font-size="16.9">-1</tspan><tspan dy="10.2">)</tspan></text>
<text transform="translate(153.9 70.3) scale(1 1.06)" font-size="21.1">E&#160;</text><path d="M175.24 64.00h10.5M175.24 67.40h10.5" stroke="#000" stroke-width="1.4" fill="none"/><text transform="translate(186.16 70.3) scale(1 1.06)" font-size="21.1">&#160;1&#160;B,&#160;M</text>
<text transform="translate(253.6 70.1) scale(1 1.0)" font-size="12.1">56</text>
<text transform="translate(267.5 76.6) scale(1 1.0)" font-size="16.6">Ni</text>
<path d="M289.80 64.00h10.5M289.80 67.40h10.5" stroke="#000" stroke-width="1.4" fill="none"/><text transform="translate(300.72 70.3) scale(1 1.06)" font-size="21.1">&#160;0.07&#160;M</text>
<circle cx="378.4" cy="66.6" r="5.1" fill="none" stroke="#000" stroke-width="0.65"/><circle cx="378.4" cy="66.6" r="1.1" fill="#000"/>
<text transform="translate(243.3 372.0) scale(1 1.06)" font-size="21.1" text-anchor="end">SN 1987A</text>
<text transform="translate(243.3 393.3) scale(1 1.06)" font-size="21.1" text-anchor="end">SN 1998A</text>
<text transform="translate(243.3 414.6) scale(1 1.06)" font-size="21.1" text-anchor="end">SN 2000cb</text>
<text transform="translate(243.3 435.9) scale(1 1.06)" font-size="21.1" text-anchor="end">SN 2009E</text>
<text transform="translate(243.3 457.1) scale(1 1.06)" font-size="21.1" text-anchor="end">SN 2009mw</text>
<text transform="translate(374.7 372.0) scale(1 1.06)" font-size="21.1">R&#160;</text><path d="M397.20 365.70h10.5M397.20 369.10h10.5" stroke="#000" stroke-width="1.4" fill="none"/><text transform="translate(408.12 372.0) scale(1 1.06)" font-size="21.1">&#160;10.8&#160;R</text>
<circle cx="482.4" cy="368.1" r="5.1" fill="none" stroke="#000" stroke-width="0.65"/><circle cx="482.4" cy="368.1" r="1.1" fill="#000"/>
<text transform="translate(488.7 372.0) scale(1 1.06)" font-size="21.1">,&#160;M&#160;</text><path d="M525.27 365.70h10.5M525.27 369.10h10.5" stroke="#000" stroke-width="1.4" fill="none"/><text transform="translate(536.2 372.0) scale(1 1.06)" font-size="21.1">&#160;16.9&#160;M</text>
<circle cx="612.7" cy="368.1" r="5.1" fill="none" stroke="#000" stroke-width="0.65"/><circle cx="612.7" cy="368.1" r="1.1" fill="#000"/>
<text transform="translate(374.7 393.3) scale(1 1.06)" font-size="21.1">R&#160;</text><path d="M397.20 387.00h10.5M397.20 390.40h10.5" stroke="#000" stroke-width="1.4" fill="none"/><text transform="translate(408.12 393.3) scale(1 1.06)" font-size="21.1">&#160;17.7&#160;R</text>
<circle cx="482.4" cy="389.40000000000003" r="5.1" fill="none" stroke="#000" stroke-width="0.65"/><circle cx="482.4" cy="389.40000000000003" r="1.1" fill="#000"/>
<text transform="translate(488.7 393.3) scale(1 1.06)" font-size="21.1">,&#160;M&#160;</text><path d="M525.27 387.00h10.5M525.27 390.40h10.5" stroke="#000" stroke-width="1.4" fill="none"/><text transform="translate(536.2 393.3) scale(1 1.06)" font-size="21.1">&#160;32.3&#160;M</text>
<circle cx="612.7" cy="389.40000000000003" r="5.1" fill="none" stroke="#000" stroke-width="0.65"/><circle cx="612.7" cy="389.40000000000003" r="1.1" fill="#000"/>
<text transform="translate(374.7 414.6) scale(1 1.06)" font-size="21.1">R&#160;</text><path d="M397.20 408.30h10.5M397.20 411.70h10.5" stroke="#000" stroke-width="1.4" fill="none"/><text transform="translate(408.12 414.6) scale(1 1.06)" font-size="21.1">&#160;37.4&#160;R</text>
<circle cx="482.4" cy="410.70000000000005" r="5.1" fill="none" stroke="#000" stroke-width="0.65"/><circle cx="482.4" cy="410.70000000000005" r="1.1" fill="#000"/>
<text transform="translate(488.7 414.6) scale(1 1.06)" font-size="21.1">,&#160;M&#160;</text><path d="M525.27 408.30h10.5M525.27 411.70h10.5" stroke="#000" stroke-width="1.4" fill="none"/><text transform="translate(536.2 414.6) scale(1 1.06)" font-size="21.1">&#160;19.7&#160;M</text>
<circle cx="612.7" cy="410.70000000000005" r="5.1" fill="none" stroke="#000" stroke-width="0.65"/><circle cx="612.7" cy="410.70000000000005" r="1.1" fill="#000"/>
<text transform="translate(374.7 435.9) scale(1 1.06)" font-size="21.1">R&#160;</text><path d="M397.20 429.60h10.5M397.20 433.00h10.5" stroke="#000" stroke-width="1.4" fill="none"/><text transform="translate(408.12 435.9) scale(1 1.06)" font-size="21.1">&#160;51.0&#160;R</text>
<circle cx="482.4" cy="432.0" r="5.1" fill="none" stroke="#000" stroke-width="0.65"/><circle cx="482.4" cy="432.0" r="1.1" fill="#000"/>
<text transform="translate(488.7 435.9) scale(1 1.06)" font-size="21.1">,&#160;M&#160;</text><path d="M525.27 429.60h10.5M525.27 433.00h10.5" stroke="#000" stroke-width="1.4" fill="none"/><text transform="translate(536.2 435.9) scale(1 1.06)" font-size="21.1">&#160;28.6&#160;M</text>
<circle cx="612.7" cy="432.0" r="5.1" fill="none" stroke="#000" stroke-width="0.65"/><circle cx="612.7" cy="432.0" r="1.1" fill="#000"/>
<text transform="translate(374.7 457.1) scale(1 1.06)" font-size="21.1">R&#160;</text><path d="M397.20 450.80h10.5M397.20 454.20h10.5" stroke="#000" stroke-width="1.4" fill="none"/><text transform="translate(408.12 457.1) scale(1 1.06)" font-size="21.1">&#160;76.0&#160;R</text>
<circle cx="482.4" cy="453.20000000000005" r="5.1" fill="none" stroke="#000" stroke-width="0.65"/><circle cx="482.4" cy="453.20000000000005" r="1.1" fill="#000"/>
<text transform="translate(488.7 457.1) scale(1 1.06)" font-size="21.1">,&#160;M&#160;</text><path d="M525.27 450.80h10.5M525.27 454.20h10.5" stroke="#000" stroke-width="1.4" fill="none"/><text transform="translate(536.2 457.1) scale(1 1.06)" font-size="21.1">&#160;24.6&#160;M</text>
<circle cx="612.7" cy="453.20000000000005" r="5.1" fill="none" stroke="#000" stroke-width="0.65"/><circle cx="612.7" cy="453.20000000000005" r="1.1" fill="#000"/>
</g>
</svg></body></html>
